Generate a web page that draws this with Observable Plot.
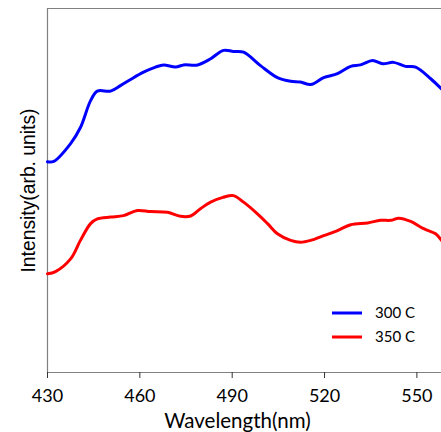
<!DOCTYPE html>
<html><head><meta charset="utf-8">
<script src="https://cdn.jsdelivr.net/npm/d3@7"></script>
<script src="https://cdn.jsdelivr.net/npm/@observablehq/plot@0.6"></script>
<style>body{margin:0;background:#fff}</style>
</head><body><div id="chart"></div>
<script>
const seriesNames = ["300 C", "350 C"];
const seriesColors = ["#0000ff", "#ff0000"];
const xTicks = [430, 460, 490, 520, 550];

const wl300 = [430,432,437.5,440.7,444,446.2,450.5,453.7,457,461.2,465.1,467.7,471.6,474.2,478.8,483,487.2,490.4,493.7,499.2,504.7,509,512.2,515.5,519.7,524.2,528.5,531.7,535.6,538.9,542.4,546.3,549.6,554.5,558];
const int300 = [57.9,58,62.9,67.3,74.7,77.3,77.3,78.8,80.5,82.5,83.9,84.5,83.9,84.5,84.5,86.2,88.5,88.2,88,84.3,81,80,79.8,79.1,81,82.1,84.1,84.5,85.7,84.8,85.2,84.1,83.9,80.7,77.9];

const wl350 = [430,432.6,437.5,440.7,444,446.2,450.5,454.7,459.2,463.5,469,473.2,476.5,479.7,483,487,490.4,493.7,498.2,501.5,504.7,509,512.2,515.5,519.7,524.2,528.5,534,538.2,541.5,544.1,548,552.2,556.1,558];
const int350 = [27.1,27.7,31.2,36.3,40.9,42.2,42.7,43.1,44.5,44.2,44,42.9,43,45,46.8,48.1,48.6,46.8,43.6,40.9,38.1,36.3,35.8,36.3,37.6,39,40.6,41.1,41.8,41.8,42.4,41.5,39.5,38.1,36.3];

const data = [
  ...wl300.map((w,i)=>({w, v:int300[i], s:seriesNames[0]})),
  ...wl350.map((w,i)=>({w, v:int350[i], s:seriesNames[1]}))
];

const legendMark = (index, scales, values, dims) => {
  const g = d3.create("svg:g");
  const right = dims.width - dims.marginRight;
  const bottom = dims.height - dims.marginBottom;
  seriesNames.forEach((name, i) => {
    const y = bottom - 59 + i * 24;
    g.append("line").attr("x1", right - 109).attr("x2", right - 79)
      .attr("y1", y).attr("y2", y).attr("stroke", seriesColors[i]).attr("stroke-width", 3);
    g.append("text").attr("x", right - 66).attr("y", y).attr("dy", "0.35em")
      .attr("text-anchor", "start")
      .attr("font-family", "Lato, sans-serif").attr("font-size", 15).attr("fill", "#000")
      .text(name);
  });
  return g.node();
};

const chart = Plot.plot({
  width: 441, height: 432,
  marginLeft: 47, marginTop: 8, marginBottom: 60, marginRight: 0,
  style: {background: "#fff", fontFamily: "Lato, sans-serif"},
  x: {domain: [430, 558]},
  y: {domain: [0, 100], axis: null},
  color: {domain: seriesNames, range: seriesColors},
  marks: [
    Plot.ruleY([100], {stroke: "#808080", strokeWidth: 1.2}),
    Plot.ruleX([430], {stroke: "#808080", strokeWidth: 1.2}),
    Plot.ruleY([0], {stroke: "#808080", strokeWidth: 1.2}),
    Plot.axisX({ticks: xTicks, tickSize: 6, tickPadding: 11, fontSize: 18, label: null, stroke: "#333", fill: "#000"}),
    Plot.line(data, {x: "w", y: "v", z: "s", stroke: "s", strokeWidth: 3, curve: "catmull-rom"}),
    Plot.text(["Wavelength(nm)"], {frameAnchor: "bottom", dx: -7, dy: 55, fontSize: 20.5, fill: "#000", fontFamily: "Lato, sans-serif"}),
    Plot.text(["Intensity(arb. units)"], {frameAnchor: "left", textAnchor: "middle", rotate: -90, dx: -19, fontSize: 19.3, fill: "#000", fontFamily: "Liberation Sans, Arial, sans-serif"}),
    legendMark
  ]
});
document.getElementById("chart").append(chart);
</script>
</body></html>
